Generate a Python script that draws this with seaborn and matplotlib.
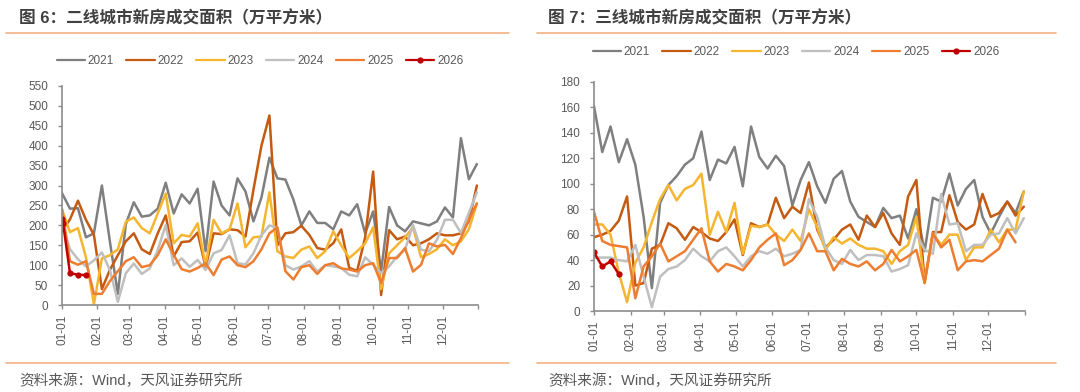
import numpy as np
import matplotlib
matplotlib.use('Agg')
import matplotlib.pyplot as plt
import seaborn as sns
from matplotlib.lines import Line2D

sns.set_theme(style='ticks')
plt.rcParams['font.family'] = ['Liberation Sans', 'Noto Sans CJK SC', 'DejaVu Sans']
plt.rcParams['axes.unicode_minus'] = False

# ---------------- data ----------------
years = ['2021', '2022', '2023', '2024', '2025', '2026']
colors = ['#7F7F7F', '#C55A11', '#F5B52E', '#BFBFBF', '#ED7D31', '#C00000']

month_labels = ['01-01', '02-01', '03-01', '04-01', '05-01', '06-01',
                '07-01', '08-01', '09-01', '10-01', '11-01', '12-01']
month_days = [0, 31, 59, 90, 120, 151, 181, 212, 243, 273, 304, 334]
week_days = list(range(0, 365, 7))  # weekly observation day-of-year

# Figure 6: tier-2 cities (10k sqm)
t2_2021 = [281, 242, 243, 170, 180, 300, 160, 28, 203, 258, 222, 225, 242, 307, 230, 278, 255, 292, 135, 310,
           250, 225, 318, 285, 210, 270, 370, 318, 315, 265, 200, 235, 206, 206, 190, 235, 225, 253, 180, 235,
           85, 246, 200, 185, 210, 205, 200, 210, 245, 220, 419, 316, 354]
t2_2022 = [185, 215, 262, 214, 176, 40, 88, 125, 160, 180, 140, 128, 180, 225, 122, 158, 160, 182, 95, 180,
           178, 190, 188, 172, 290, 400, 476, 150, 180, 183, 199, 176, 143, 139, 155, 190, 93, 86, 170, 335,
           25, 188, 165, 172, 150, 155, 165, 180, 175, 175, 180, 210, 300]
t2_2023 = [240, 183, 193, 120, 2, 117, 125, 140, 209, 220, 193, 180, 230, 280, 155, 176, 172, 205, 100, 214,
           180, 190, 255, 145, 170, 172, 283, 135, 122, 118, 139, 147, 118, 135, 185, 150, 118, 135, 155, 195,
           40, 130, 150, 170, 195, 120, 128, 140, 165, 150, 160, 190, 255]
t2_2024 = [205, 140, 115, 97, 112, 132, 88, 8, 80, 104, 78, 92, 138, 201, 100, 117, 96, 113, 88, 130,
           138, 175, 105, 102, 130, 175, 200, 193, 100, 89, 97, 110, 84, 100, 97, 93, 76, 72, 120, 101,
           80, 97, 122, 139, 201, 139, 135, 164, 214, 214, 181, 231, 283]
t2_2025 = [240, 110, 101, 110, 28, 28, 60, 85, 110, 120, 95, 100, 125, 165, 126, 90, 84, 93, 105, 75,
           114, 122, 100, 95, 110, 140, 180, 195, 85, 64, 95, 100, 78, 100, 105, 92, 89, 84, 100, 105,
           55, 118, 118, 143, 84, 101, 155, 147, 151, 128, 168, 214, 255]
t2_2026_days = [0, 1, 7, 14, 21]
t2_2026 = [215, 205, 80, 76, 75]

# Figure 7: tier-3 cities (10k sqm)
t3_2021 = [161, 125, 145, 117, 135, 115, 74, 18, 85, 99, 106, 115, 120, 141, 103, 119, 116, 129, 98, 145,
           121, 112, 122, 114, 83, 103, 117, 98, 85, 104, 110, 86, 74, 70, 66, 81, 73, 75, 57, 80,
           47, 89, 86, 108, 83, 96, 103, 74, 61, 74, 86, 77, 94]
t3_2022 = [58, 60, 63, 71, 90, 20, 22, 49, 52, 69, 65, 56, 66, 62, 57, 55, 62, 72, 44, 69,
           66, 68, 89, 73, 82, 77, 101, 64, 50, 56, 64, 68, 56, 75, 66, 77, 61, 52, 90, 103,
           23, 62, 62, 91, 70, 64, 68, 92, 74, 77, 86, 75, 82]
t3_2023 = [68, 68, 60, 30, 7, 38, 50, 70, 88, 99, 87, 96, 99, 108, 60, 78, 62, 85, 45, 67,
           66, 68, 60, 55, 64, 55, 80, 66, 48, 58, 53, 57, 52, 49, 49, 47, 37, 47, 52, 74,
           22, 61, 52, 60, 60, 40, 50, 50, 64, 54, 64, 64, 94]
t3_2024 = [42, 42, 42, 40, 39, 52, 27, 3, 27, 33, 35, 40, 49, 43, 39, 47, 50, 43, 35, 43,
           47, 45, 49, 43, 45, 48, 88, 74, 50, 40, 37, 48, 40, 44, 44, 43, 31, 33, 36, 61,
           48, 45, 92, 68, 69, 47, 52, 52, 60, 61, 73, 61, 73]
t3_2025 = [78, 55, 52, 51, 50, 10, 35, 43, 53, 39, 43, 47, 56, 65, 39, 31, 37, 35, 32, 40,
           50, 56, 61, 36, 40, 48, 61, 47, 47, 32, 41, 37, 35, 39, 32, 37, 48, 39, 43, 48,
           22, 61, 50, 56, 32, 39, 40, 39, 44, 49, 64, 54]
t3_2026_days = [0, 7, 14, 21]
t3_2026 = [46, 35, 39, 29]

titles = ['图 6：二线城市新房成交面积（万平方米）', '图 7：三线城市新房成交面积（万平方米）']
source = '资料来源：Wind，天风证券研究所'

# ---------------- figure ----------------
W, H = 1080, 392
fig = plt.figure(figsize=(W / 100, H / 100), dpi=100)
fig.patch.set_facecolor('white')


def px_axes(x0, y0, x1, y1):
    return fig.add_axes([x0 / W, 1 - y1 / H, (x1 - x0) / W, (y1 - y0) / H])


TXT = '#595959'
AXC = '#8C8C8C'
ORANGE_RULE = '#F4B183'


def draw(ax, series, d26, v26, ymax, ystep, legend_xy):
    for name, vals, c in zip(years[:5], series, colors[:5]):
        sns.lineplot(x=week_days[:len(vals)], y=vals, ax=ax, color=c, linewidth=1.8,
                     label=name, estimator=None, sort=False)
    sns.lineplot(x=d26, y=v26, ax=ax, color=colors[5], linewidth=1.8, marker='o',
                 markersize=4.5, markeredgewidth=0, label=years[5], estimator=None, sort=False)
    ax.set_xlim(0, 365)
    ax.set_ylim(0, ymax)
    ax.set_yticks(np.arange(0, ymax + 1, ystep))
    ax.set_xticks(month_days + [365])
    ax.set_xticklabels(month_labels + [''], rotation=90)
    ax.set_xlabel('')
    ax.set_ylabel('')
    for s in ['top', 'right']:
        ax.spines[s].set_visible(False)
    for s in ['left', 'bottom']:
        ax.spines[s].set_color(AXC)
        ax.spines[s].set_linewidth(1.2)
    ax.tick_params(axis='y', direction='out', length=3, width=1, color=AXC,
                   labelcolor=TXT, labelsize=8.5, pad=7)
    ax.tick_params(axis='x', direction='out', length=3, width=1, color=AXC,
                   labelcolor=TXT, labelsize=8.5, pad=4)
    ax.set_facecolor('white')
    ax.grid(False)
    handles, labels = ax.get_legend_handles_labels()
    ax.get_legend().remove()
    leg = fig.legend(handles, labels, loc='center', bbox_to_anchor=legend_xy, ncol=6, frameon=False,
                     fontsize=8.5, handlelength=2.4, handletextpad=0.25, columnspacing=1.05,
                     labelcolor=TXT, numpoints=1)
    for line in leg.get_lines():
        line.set_linewidth(1.6)


ax1 = px_axes(62, 86, 478, 305)
draw(ax1, [t2_2021, t2_2022, t2_2023, t2_2024, t2_2025], t2_2026_days, t2_2026,
     550, 50, (260 / W, 1 - 61 / H))

ax2 = px_axes(594, 82, 1025, 311)
draw(ax2, [t3_2021, t3_2022, t3_2023, t3_2024, t3_2025], t3_2026_days, t3_2026,
     180, 20, (796 / W, 1 - 52 / H))

# titles, rules and source notes
for x_text, (xa, xb), title in [(19, (6, 509), titles[0]), (548, (537, 1056), titles[1])]:
    fig.text(x_text / W, 1 - 18 / H, title, fontsize=12, fontweight='bold', color='#404040',
             ha='left', va='center')
    fig.add_artist(Line2D([xa / W, xb / W], [1 - 33 / H] * 2, color=ORANGE_RULE, lw=1.2))
    fig.add_artist(Line2D([xa / W, xb / W], [1 - 363 / H] * 2, color=ORANGE_RULE, lw=1.2))
    fig.text(x_text / W, 1 - 381 / H, source, fontsize=10.5, color=TXT, ha='left', va='center')

fig.savefig('out.png', dpi=100, facecolor='white')
